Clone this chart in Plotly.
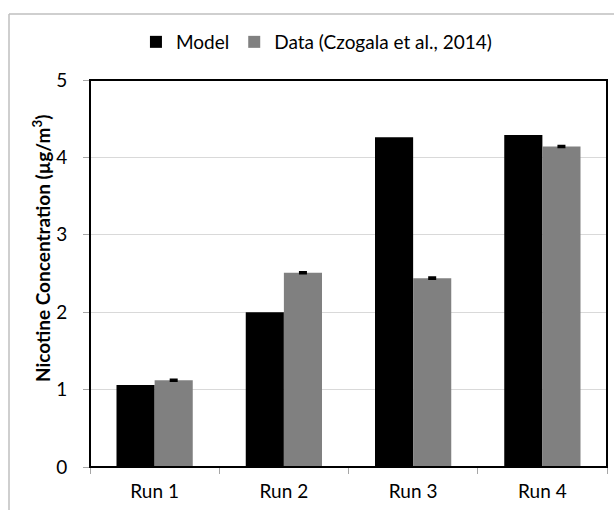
import plotly.graph_objects as go

runs = ["Run 1", "Run 2", "Run 3", "Run 4"]
model = [1.06, 2.00, 4.26, 4.29]
data = [1.12, 2.51, 2.44, 4.14]
data_err = [0.01, 0.01, 0.01, 0.01]

FONT = "Lato"
L, R, T, B = 90, 7, 80, 43
W, H = 614, 510
pw, ph = W - L - R, H - T - B

fig = go.Figure()
fig.add_trace(go.Bar(x=runs, y=model, name="Model",
                     marker=dict(color="#000000", line=dict(width=0))))
fig.add_trace(go.Bar(x=runs, y=data, name="Data (Czogala et al., 2014)",
                     marker=dict(color="#808080", line=dict(width=0)),
                     error_y=dict(type="data", array=data_err, visible=True,
                                  color="#000000", thickness=2, width=4)))

# outer chart frame (left and top edges)
fx = (9 - L) / pw
fy = 1 + (T - 14) / ph
fig.add_shape(type="line", xref="paper", yref="paper", x0=fx, x1=fx,
              y0=-B / ph - 0.01, y1=fy, line=dict(color="#bfbfbf", width=1.5))
fig.add_shape(type="line", xref="paper", yref="paper", x0=fx, x1=(W - L + 5) / pw,
              y0=fy, y1=fy, line=dict(color="#bfbfbf", width=1.5))
# plot area border
fig.add_shape(type="rect", xref="paper", yref="paper", x0=0, x1=1, y0=0, y1=1,
              line=dict(color="#000000", width=2), layer="above")

fig.add_annotation(text="<b>Nicotine Concentration (µg/m<sup>3</sup>)</b>",
                   xref="paper", yref="paper", x=(42 - L) / pw, y=(H - B - 249) / ph,
                   xanchor="center", yanchor="middle",
                   textangle=-90, showarrow=False,
                   font=dict(family=FONT, size=19, color="#000000"))

fig.update_layout(
    width=W, height=H,
    margin=dict(l=L, r=R, t=T, b=B),
    paper_bgcolor="white", plot_bgcolor="white",
    barmode="group", bargap=0.41, bargroupgap=0,
    font=dict(family=FONT, size=19, color="#000000"),
    showlegend=True,
    legend=dict(orientation="h", x=0.438, xanchor="center", y=1 + (T - 42) / ph,
                yanchor="middle", font=dict(family=FONT, size=19),
                traceorder="normal", itemwidth=30),
    xaxis=dict(type="category", ticks="outside", tickson="boundaries",
               ticklen=6, tickcolor="#a6a6a6", showline=False, showgrid=False,
               ticklabelstandoff=11, tickfont=dict(family=FONT, size=19)),
    yaxis=dict(range=[0, 5], dtick=1, ticks="outside", ticklen=6,
               tickcolor="#a6a6a6", showgrid=True, gridcolor="#d9d9d9",
               gridwidth=1, zeroline=False, showline=False,
               ticklabelstandoff=12, tickfont=dict(family=FONT, size=19)),
)

fig.write_html("out.html")
